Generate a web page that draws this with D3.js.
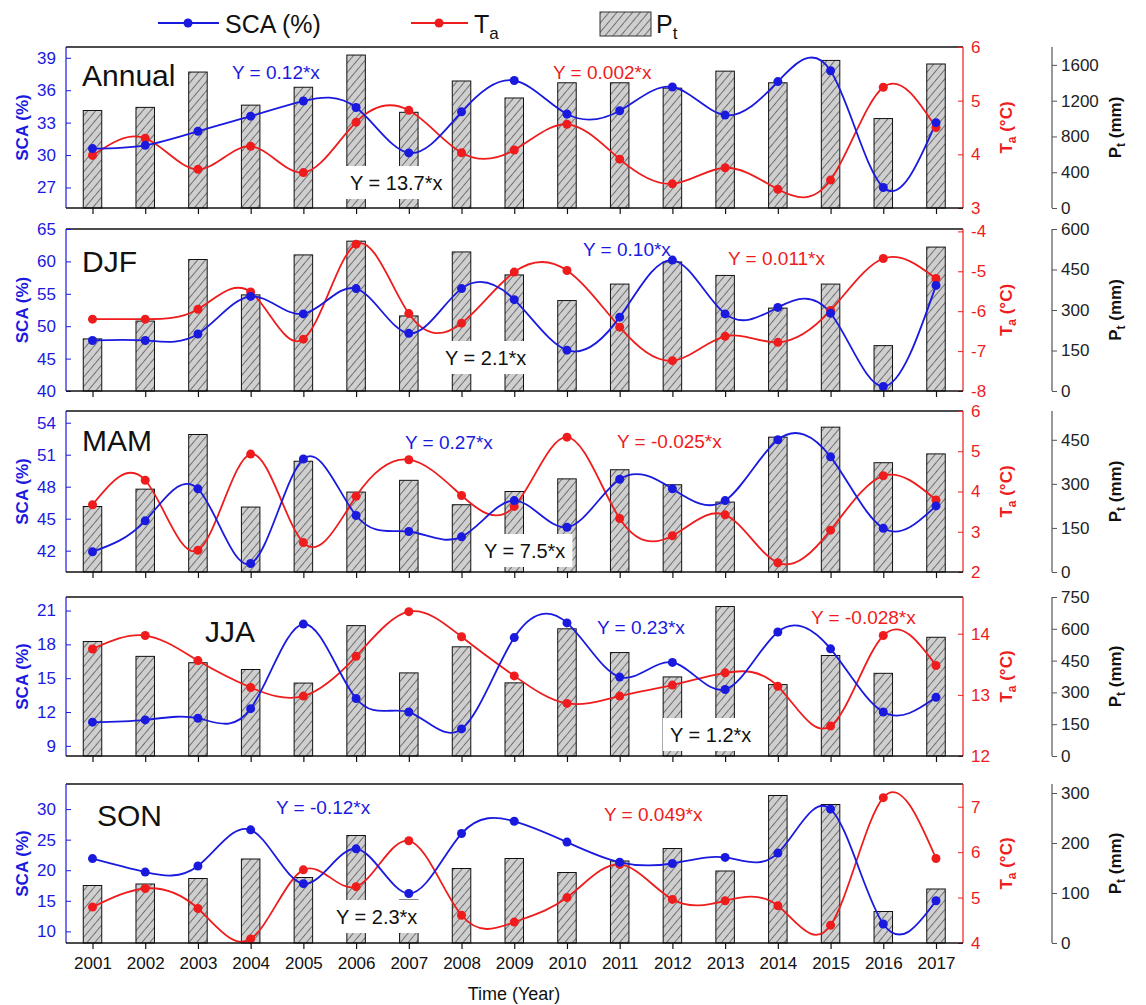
<!DOCTYPE html>
<html>
<head>
<meta charset="utf-8">
<script src="https://cdn.jsdelivr.net/npm/d3@7"></script>
<style>
body { margin: 0; background: #fff; }
text { font-family: "Liberation Sans", Arial, sans-serif; }
</style>
</head>
<body>
<svg id="chart" width="1146" height="1005"></svg>
<script>
// years on the x axis
var years = [2001, 2002, 2003, 2004, 2005, 2006, 2007, 2008, 2009, 2010, 2011, 2012, 2013, 2014, 2015, 2016, 2017];

// Annual
var annualSCA = [30.6, 30.9, 32.2, 33.6, 35.0, 34.4, 30.2, 34.0, 36.9, 33.8, 34.1, 36.3, 33.7, 36.8, 37.8, 27.0, 33.0];
var annualTa  = [3.98, 4.30, 3.72, 4.15, 3.66, 4.60, 4.82, 4.03, 4.08, 4.56, 3.91, 3.45, 3.75, 3.35, 3.52, 5.25, 4.50];
var annualPt  = [1090, 1125, 1520, 1150, 1350, 1710, 1070, 1420, 1230, 1400, 1400, 1340, 1530, 1400, 1650, 1000, 1610];
// DJF
var djfSCA = [47.8, 47.8, 48.8, 54.6, 51.9, 55.8, 48.9, 55.8, 54.1, 46.3, 51.4, 60.2, 51.9, 52.9, 52.0, 40.7, 56.3];
var djfTa  = [-6.20, -6.20, -5.95, -5.52, -6.70, -4.32, -6.06, -6.30, -5.02, -4.98, -6.40, -7.24, -6.63, -6.78, -5.98, -4.68, -5.18];
var djfPt  = [193, 259, 487, 356, 504, 555, 278, 515, 430, 335, 396, 478, 428, 307, 396, 168, 533];
// MAM
var mamSCA = [41.9, 44.8, 47.8, 40.8, 50.6, 45.3, 43.8, 43.3, 46.7, 44.2, 48.7, 47.8, 46.7, 52.4, 50.8, 44.1, 46.2];
var mamTa  = [3.67, 4.28, 2.54, 4.93, 2.73, 3.88, 4.79, 3.90, 3.63, 5.35, 3.33, 2.90, 3.42, 2.23, 3.04, 4.39, 3.79];
var mamPt  = [223, 282, 468, 221, 377, 272, 312, 229, 274, 317, 348, 297, 238, 459, 493, 372, 402];
// JJA
var jjaSCA = [11.1, 11.3, 11.45, 12.3, 19.8, 13.2, 12.0, 10.5, 18.6, 19.9, 15.1, 16.4, 14.0, 19.1, 17.6, 12.0, 13.3];
var jjaTa  = [13.75, 13.97, 13.56, 13.12, 12.98, 13.63, 14.36, 13.95, 13.31, 12.86, 12.98, 13.16, 13.36, 13.14, 12.49, 13.97, 13.48];
var jjaPt  = [540, 470, 440, 408, 344, 615, 392, 515, 345, 600, 488, 373, 705, 337, 474, 390, 560];
// SON
var sonSCA = [21.9, 19.7, 20.7, 26.6, 17.8, 23.5, 16.2, 26.0, 28.0, 24.6, 21.3, 21.1, 22.1, 22.8, 30.0, 11.2, 15.0];
var sonTa  = [4.79, 5.20, 4.76, 4.09, 5.61, 5.24, 6.25, 4.61, 4.46, 5.00, 5.73, 4.96, 4.93, 4.82, 4.39, 7.20, 5.86];
var sonPt  = [115, 118, 129, 168, 131, 215, 86, 149, 169, 141, 164, 189, 144, 295, 277, 63, 108];

// trend labels
var panelNames = ["Annual", "DJF", "MAM", "JJA", "SON"];
var scaTrend = ["Y = 0.12*x", "Y = 0.10*x", "Y = 0.27*x", "Y = 0.23*x", "Y = -0.12*x"];
var taTrend  = ["Y = 0.002*x", "Y = 0.011*x", "Y = -0.025*x", "Y = -0.028*x", "Y = 0.049*x"];
var ptTrend  = ["Y = 13.7*x", "Y = 2.1*x", "Y = 7.5*x", "Y = 1.2*x", "Y = 2.3*x"];

// tick values
var scaTicks = [[27, 30, 33, 36, 39], [40, 45, 50, 55, 60, 65], [42, 45, 48, 51, 54], [9, 12, 15, 18, 21], [10, 15, 20, 25, 30]];
var taTicks  = [[3, 4, 5, 6], [-8, -7, -6, -5, -4], [2, 3, 4, 5, 6], [12, 13, 14], [4, 5, 6, 7]];
var ptTicks  = [[0, 400, 800, 1200, 1600], [0, 150, 300, 450, 600], [0, 150, 300, 450], [0, 150, 300, 450, 600, 750], [0, 100, 200, 300]];

var BLUE = "#1a1adf", RED = "#ee1c1c";
var left = 66, right = 963;
var plain = function(d) { return String(d); };

var panels = [
  {sca: annualSCA, ta: annualTa, pt: annualPt, top: 47, bottom: 208,
   scaDom: [25.1, 40], taDom: [3, 6], ptDom: [0, 1800],
   name: [82, 86], scaLab: [232, 79], taLab: [553, 79], ptLab: [350, 190]},
  {sca: djfSCA, ta: djfTa, pt: djfPt, top: 229, bottom: 391,
   scaDom: [40, 65], taDom: [-8, -3.94], ptDom: [0, 600],
   name: [82, 272], scaLab: [583, 256], taLab: [728, 265], ptLab: [445, 365]},
  {sca: mamSCA, ta: mamTa, pt: mamPt, top: 411, bottom: 572,
   scaDom: [40, 55.1], taDom: [2, 6], ptDom: [0, 548],
   name: [82, 451], scaLab: [405, 449], taLab: [617, 448], ptLab: [484, 558]},
  {sca: jjaSCA, ta: jjaTa, pt: jjaPt, top: 597, bottom: 756,
   scaDom: [8.1, 22.2], taDom: [12, 14.6], ptDom: [0, 750],
   name: [205, 642], scaLab: [597, 634], taLab: [811, 624], ptLab: [670, 742]},
  {sca: sonSCA, ta: sonTa, pt: sonPt, top: 784, bottom: 943,
   scaDom: [8.1, 34.1], taDom: [4, 7.5], ptDom: [0, 318],
   name: [97, 826], scaLab: [276, 814], taLab: [604, 821], ptLab: [336, 924]}
];

var svg = d3.select("#chart");

// hatch pattern for the bars
var defs = svg.append("defs");
var pat = defs.append("pattern")
    .attr("id", "hatch")
    .attr("patternUnits", "userSpaceOnUse")
    .attr("width", 6).attr("height", 6)
    .attr("patternTransform", "rotate(40)");
pat.append("rect").attr("width", 6).attr("height", 6).attr("fill", "#cfcfcf");
pat.append("line").attr("x1", 0).attr("y1", 0).attr("x2", 0).attr("y2", 6)
    .attr("stroke", "#222").attr("stroke-width", 1.1);

var x = d3.scaleLinear().domain([2001, 2017]).range([92.5, 936]);
var barW = 18.5;

panels.forEach(function(p, k) {
    var yS = d3.scaleLinear().domain(p.scaDom).range([p.bottom, p.top]);
    var yT = d3.scaleLinear().domain(p.taDom).range([p.bottom, p.top]);
    var yP = d3.scaleLinear().domain(p.ptDom).range([p.bottom, p.top]);
    var g = svg.append("g");

    // bars
    g.selectAll("rect.bar")
        .data(p.pt)
        .enter()
        .append("rect")
            .attr("class", "bar")
            .attr("x", function(d, i) { return x(years[i]) - barW / 2; })
            .attr("width", barW)
            .attr("y", function(d) { return yP(d); })
            .attr("height", function(d) { return yP(0) - yP(d); })
            .attr("fill", "url(#hatch)")
            .attr("stroke", "#111")
            .attr("stroke-width", 1);

    // Pt trend with white box
    var ptText = g.append("text")
        .attr("x", p.ptLab[0]).attr("y", p.ptLab[1])
        .attr("font-size", 20)
        .attr("fill", "#111")
        .text(ptTrend[k]);
    var bb = ptText.node().getBBox();
    g.insert("rect", "text")
        .attr("x", bb.x - 7).attr("y", bb.y - 6)
        .attr("width", bb.width + 14).attr("height", bb.height + 11)
        .attr("fill", "#fff");

    // lines
    var lineS = d3.line()
        .x(function(d, i) { return x(years[i]); })
        .y(function(d) { return yS(d); })
        .curve(d3.curveNatural);
    var lineT = d3.line()
        .x(function(d, i) { return x(years[i]); })
        .y(function(d) { return yT(d); })
        .curve(d3.curveNatural);

    g.append("path").datum(p.ta).attr("d", lineT)
        .attr("fill", "none").attr("stroke", RED).attr("stroke-width", 1.8);
    g.append("path").datum(p.sca).attr("d", lineS)
        .attr("fill", "none").attr("stroke", BLUE).attr("stroke-width", 1.8);

    g.selectAll("circle.ta").data(p.ta).enter().append("circle")
        .attr("class", "ta")
        .attr("cx", function(d, i) { return x(years[i]); })
        .attr("cy", function(d) { return yT(d); })
        .attr("r", 4.5).attr("fill", RED);
    g.selectAll("circle.sca").data(p.sca).enter().append("circle")
        .attr("class", "sca")
        .attr("cx", function(d, i) { return x(years[i]); })
        .attr("cy", function(d) { return yS(d); })
        .attr("r", 4.5).attr("fill", BLUE);

    // panel name and trends
    g.append("text").attr("x", p.name[0]).attr("y", p.name[1])
        .attr("font-size", 30).attr("fill", "#111").text(panelNames[k]);
    g.append("text").attr("x", p.scaLab[0]).attr("y", p.scaLab[1])
        .attr("font-size", 19).attr("fill", BLUE).text(scaTrend[k]);
    g.append("text").attr("x", p.taLab[0]).attr("y", p.taLab[1])
        .attr("font-size", 19).attr("fill", RED).text(taTrend[k]);

    // frame top
    g.append("line").attr("x1", left).attr("x2", right).attr("y1", p.top).attr("y2", p.top)
        .attr("stroke", "#111").attr("stroke-width", 1.6);

    // left axis (SCA)
    var axL = d3.axisLeft(yS).tickValues(scaTicks[k]).tickSize(-5).tickPadding(10).tickFormat(plain);
    var gl = g.append("g").attr("transform", "translate(" + left + ",0)").call(axL);
    gl.select(".domain").attr("d", "M0," + p.top + "V" + p.bottom).attr("stroke", BLUE).attr("stroke-width", 1.2);
    gl.selectAll(".tick line").attr("stroke", BLUE);
    gl.selectAll(".tick text").attr("fill", BLUE).attr("font-size", 17);

    // right axis (Ta)
    var axR = d3.axisRight(yT).tickValues(taTicks[k]).tickSize(-5).tickPadding(8).tickFormat(plain);
    var gr = g.append("g").attr("transform", "translate(" + right + ",0)").call(axR);
    gr.select(".domain").attr("d", "M0," + p.top + "V" + p.bottom).attr("stroke", RED).attr("stroke-width", 1.2);
    gr.selectAll(".tick line").attr("stroke", RED);
    gr.selectAll(".tick text").attr("fill", RED).attr("font-size", 17);

    // offset axis (Pt)
    var axP = d3.axisRight(yP).tickValues(ptTicks[k]).tickSize(5).tickPadding(4).tickFormat(plain);
    var gp = g.append("g").attr("transform", "translate(1052,0)").call(axP);
    gp.select(".domain").attr("d", "M0," + p.top + "V" + p.bottom).attr("stroke", "#555").attr("stroke-width", 1.2);
    gp.selectAll(".tick line").attr("stroke", "#555");
    gp.selectAll(".tick text").attr("fill", "#222").attr("font-size", 17);

    // bottom axis
    var axB = d3.axisBottom(x).tickValues(years).tickSize(6).tickFormat(plain);
    var gb = g.append("g").attr("transform", "translate(0," + p.bottom + ")").call(axB);
    gb.select(".domain").attr("d", "M" + left + ",0H" + right).attr("stroke", "#111").attr("stroke-width", 1.6);
    gb.selectAll(".tick line").attr("stroke", "#111").attr("stroke-width", 1.2);
    if (k < panels.length - 1) {
        gb.selectAll(".tick text").remove();
    } else {
        gb.selectAll(".tick text").attr("fill", "#111").attr("font-size", 17).attr("dy", "1.0em");
    }

    // axis titles
    var mid = (p.top + p.bottom) / 2;
    g.append("text")
        .attr("transform", "translate(28," + mid + ") rotate(-90)")
        .attr("text-anchor", "middle")
        .attr("font-size", 17).attr("font-weight", "bold").attr("fill", BLUE)
        .text("SCA (%)");
    var tT = g.append("text")
        .attr("transform", "translate(1012," + mid + ") rotate(-90)")
        .attr("text-anchor", "middle")
        .attr("font-size", 17).attr("font-weight", "bold").attr("fill", RED);
    tT.append("tspan").text("T");
    tT.append("tspan").attr("font-size", 12).attr("dy", 4).text("a");
    tT.append("tspan").attr("dy", -4).text(" (°C)");
    var tP = g.append("text")
        .attr("transform", "translate(1121," + mid + ") rotate(-90)")
        .attr("text-anchor", "middle")
        .attr("font-size", 17).attr("font-weight", "bold").attr("fill", "#111");
    tP.append("tspan").text("P");
    tP.append("tspan").attr("font-size", 12).attr("dy", 4).text("t");
    tP.append("tspan").attr("dy", -4).text(" (mm)");
});

svg.selectAll(".tick text")
    .style("font-family", '"Liberation Sans", Arial, sans-serif')
    .style("font-weight", "normal");

// x title
svg.append("text").attr("x", 514).attr("y", 1000)
    .attr("text-anchor", "middle").attr("font-size", 18).attr("fill", "#111")
    .text("Time (Year)");

// legend
var lg = svg.append("g");
lg.append("line").attr("x1", 158).attr("x2", 219).attr("y1", 23).attr("y2", 23)
    .attr("stroke", BLUE).attr("stroke-width", 2);
lg.append("circle").attr("cx", 188).attr("cy", 23).attr("r", 4.5).attr("fill", BLUE);
lg.append("text").attr("x", 225).attr("y", 33).attr("font-size", 25).attr("fill", "#111").text("SCA (%)");

lg.append("line").attr("x1", 411).attr("x2", 468).attr("y1", 23).attr("y2", 23)
    .attr("stroke", RED).attr("stroke-width", 2);
lg.append("circle").attr("cx", 439).attr("cy", 23).attr("r", 4.5).attr("fill", RED);
var lt = lg.append("text").attr("x", 474).attr("y", 33).attr("font-size", 25).attr("fill", "#111");
lt.append("tspan").text("T");
lt.append("tspan").attr("font-size", 17).attr("dy", 6).text("a");

lg.append("rect").attr("x", 600).attr("y", 12).attr("width", 51).attr("height", 24)
    .attr("fill", "url(#hatch)").attr("stroke", "#333");
var lp = lg.append("text").attr("x", 656).attr("y", 33).attr("font-size", 25).attr("fill", "#111");
lp.append("tspan").text("P");
lp.append("tspan").attr("font-size", 17).attr("dy", 6).text("t");
</script>
</body>
</html>
